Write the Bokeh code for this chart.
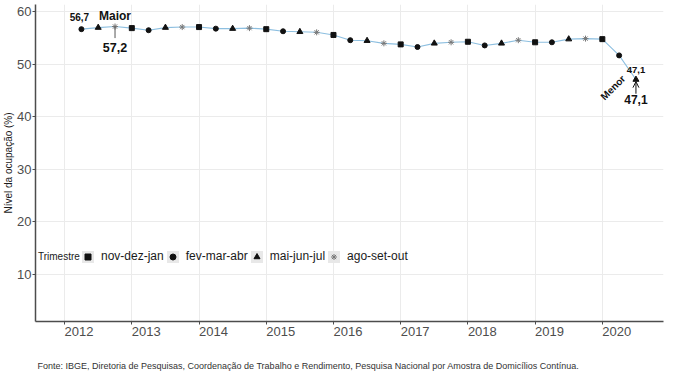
import math
from bokeh.plotting import figure
from bokeh.models import (Range1d, FixedTicker, LinearAxis, Legend, LegendItem,
                          Label, Title, Arrow, OpenHead, CustomJSTickFormatter, Grid)
from bokeh.core.properties import value
from bokeh.embed import file_html
from bokeh.resources import INLINE

# ---------------- data ----------------
trimestres = ["nov-dez-jan", "fev-mar-abr", "mai-jun-jul", "ago-set-out"]
mes_final = {"nov-dez-jan": 1, "fev-mar-abr": 4, "mai-jun-jul": 7, "ago-set-out": 10}

serie_trimestre = [
    "fev-mar-abr", "mai-jun-jul", "ago-set-out",
    "nov-dez-jan", "fev-mar-abr", "mai-jun-jul", "ago-set-out",
    "nov-dez-jan", "fev-mar-abr", "mai-jun-jul", "ago-set-out",
    "nov-dez-jan", "fev-mar-abr", "mai-jun-jul", "ago-set-out",
    "nov-dez-jan", "fev-mar-abr", "mai-jun-jul", "ago-set-out",
    "nov-dez-jan", "fev-mar-abr", "mai-jun-jul", "ago-set-out",
    "nov-dez-jan", "fev-mar-abr", "mai-jun-jul", "ago-set-out",
    "nov-dez-jan", "fev-mar-abr", "mai-jun-jul", "ago-set-out",
    "nov-dez-jan", "fev-mar-abr", "mai-jun-jul",
]
serie_ano = [
    2012, 2012, 2012,
    2013, 2013, 2013, 2013,
    2014, 2014, 2014, 2014,
    2015, 2015, 2015, 2015,
    2016, 2016, 2016, 2016,
    2017, 2017, 2017, 2017,
    2018, 2018, 2018, 2018,
    2019, 2019, 2019, 2019,
    2020, 2020, 2020,
]
nivel = [
    56.7, 57.0, 57.2,
    56.9, 56.5, 57.0, 57.1,
    57.1, 56.8, 56.8, 56.9,
    56.7, 56.3, 56.2, 56.1,
    55.6, 54.6, 54.5, 54.0,
    53.8, 53.3, 54.0, 54.2,
    54.3, 53.6, 54.0, 54.6,
    54.2, 54.2, 54.8, 54.9,
    54.8, 51.7, 47.1,
]
anos_eixo = [2012, 2013, 2014, 2015, 2016, 2017, 2018, 2019, 2020]
y_ticks = [10, 20, 30, 40, 50, 60]

titulo_y = "Nível da ocupação (%)"
fonte = ("Fonte: IBGE, Diretoria de Pesquisas, Coordenação de Trabalho e Rendimento, "
         "Pesquisa Nacional por Amostra de Domicílios Contínua.")

# ---------------- derived ----------------
tempo = [a + (mes_final[t] - 1) / 12 for a, t in zip(serie_ano, serie_trimestre)]

def fmt(v):
    return f"{v:.1f}".replace(".", ",")

FONT = "Liberation Sans"
AX = "#4d4d4d"

p = figure(width=672, height=375, output_backend="svg", toolbar_location=None,
           x_range=Range1d(2011.567, 2020.91), y_range=Range1d(1.0, 61.4),
           x_axis_location=None, min_border_left=0, min_border_right=9,
           min_border_top=4, min_border_bottom=0)
p.outline_line_color = None
p.background_fill_color = "white"
p.border_fill_color = "white"
p.xgrid.visible = False
p.ygrid.visible = False

p.add_layout(Grid(dimension=0, ticker=FixedTicker(ticks=anos_eixo),
                  grid_line_color="#ebebeb", grid_line_width=1))
p.add_layout(Grid(dimension=1, ticker=FixedTicker(ticks=y_ticks),
                  grid_line_color="#ebebeb", grid_line_width=1))

# y axis
ya = p.yaxis[0]
ya.ticker = FixedTicker(ticks=y_ticks)
ya.axis_label = titulo_y
ya.axis_label_text_font = FONT
ya.axis_label_text_font_size = "10px"
ya.axis_label_text_font_style = "normal"
ya.axis_label_text_color = "#1a1a1a"
ya.axis_label_standoff = 0
ya.major_label_text_font = FONT
ya.major_label_text_font_size = "13px"
ya.major_label_text_color = AX
ya.major_label_standoff = 1
ya.major_tick_out = 3
ya.major_tick_in = 0
ya.minor_tick_line_color = None
ya.axis_line_color = AX
ya.axis_line_width = 1.5
ya.major_tick_line_color = AX

# x axis: ticks + line
xa = LinearAxis(ticker=FixedTicker(ticks=anos_eixo),
                formatter=CustomJSTickFormatter(code="return ''"),
                major_label_text_font_size="0px", major_label_standoff=0,
                axis_line_color=AX, axis_line_width=1.5, major_tick_line_color=AX,
                major_tick_out=3, major_tick_in=0, minor_tick_line_color=None)
p.add_layout(xa, "below")
# x axis: labels left-aligned at each year tick
xl = LinearAxis(ticker=FixedTicker(ticks=[a + 0.215 for a in anos_eixo]),
                formatter=CustomJSTickFormatter(code="return String(Math.floor(tick))"),
                axis_line_color=None, major_tick_line_color=None, minor_tick_line_color=None,
                major_tick_out=0, major_tick_in=0, major_label_standoff=2,
                major_label_text_font=FONT, major_label_text_font_size="13px",
                major_label_text_color=AX)
p.add_layout(xl, "below")
# invisible spacer axis between the year labels and the source note
sp = LinearAxis(ticker=FixedTicker(ticks=[anos_eixo[4]]),
                formatter=CustomJSTickFormatter(code="return ''"),
                axis_line_color=None, major_tick_line_color=None, minor_tick_line_color=None,
                major_tick_out=16, major_tick_in=0, major_label_standoff=0,
                major_label_text_font_size="0px")
p.add_layout(sp, "below")

cap = Title(text=fonte, align="left", offset=2, text_font=FONT, text_font_size="9px",
            text_font_style="normal", text_color="#333333", standoff=9)
p.add_layout(cap, "below")

# line
p.line(tempo, nivel, line_color="#8dbfe0", line_width=1.1)

# markers per trimester
estilo = {
    "nov-dez-jan": dict(marker="square", size=5, fill_color="#111111", line_color="#111111"),
    "fev-mar-abr": dict(marker="circle", size=5, fill_color="#111111", line_color="#111111"),
    "mai-jun-jul": dict(marker="triangle", size=6, fill_color="#111111", line_color="#111111"),
    "ago-set-out": dict(marker="asterisk", size=6, line_color="#777777", line_width=1),
}
nan = float("nan")
bg = p.quad(left=[nan], right=[nan], top=[nan], bottom=[nan], fill_color="#e8e8e8", line_color=None)
items = []
for t in trimestres:
    xs = [x for x, tt in zip(tempo, serie_trimestre) if tt == t]
    ys = [v for v, tt in zip(nivel, serie_trimestre) if tt == t]
    r = p.scatter(xs, ys, **estilo[t])
    items.append(LegendItem(label=t, renderers=[bg, r]))

LEG_Y = 57.5
leg = Legend(items=items, orientation="horizontal", location=(45, LEG_Y),
             glyph_width=15, glyph_height=15, label_height=15, label_standoff=6,
             spacing=1, padding=0, margin=0, border_line_color=None,
             background_fill_alpha=0, label_text_font=FONT, label_text_font_size="12px",
             label_text_color="#1a1a1a")
p.add_layout(leg, "center")
p.add_layout(Label(x=2.5, y=LEG_Y + 7.5, x_units="screen", y_units="screen", text="Trimestre",
                   text_font=FONT, text_font_size="10px", text_color="#1a1a1a",
                   text_baseline="middle"))

# annotations
i0 = 0
imax = max(range(len(nivel)), key=lambda i: nivel[i])
imin = min(range(len(nivel)), key=lambda i: nivel[i])

def txt(i, s, size, dx=0, dy=0, angle=0.0):
    p.text(x=[tempo[i]], y=[nivel[i]], text=[s], text_font=value(FONT), text_font_style="bold",
           text_font_size=size, text_align="center", text_baseline="middle",
           x_offset=dx, y_offset=dy, angle=angle, text_color="#111111")

txt(i0, fmt(nivel[i0]), "10px", dx=-2, dy=-12)
txt(imax, "Maior", "12px", dy=-11)
p.segment(x0=[tempo[imax]], y0=[nivel[imax]], x1=[tempo[imax]], y1=[nivel[imax] - 2.2],
          line_color="#555555", line_width=1)
txt(imax, fmt(nivel[imax]), "12.5px", dy=21)

txt(imin, fmt(nivel[imin]), "9.5px", dx=0, dy=-10)
txt(imin, "Menor", "10px", dx=-23, dy=8, angle=math.pi / 4)
p.add_layout(Arrow(end=OpenHead(size=6, line_width=1, line_color="#111111"),
                   x_start=tempo[imin], y_start=nivel[imin] - 2.7,
                   x_end=tempo[imin], y_end=nivel[imin] - 0.4,
                   line_color="#111111", line_width=1))
txt(imin, fmt(nivel[imin]), "12px", dy=20)

open("out.html", "w").write(file_html(p, INLINE))
